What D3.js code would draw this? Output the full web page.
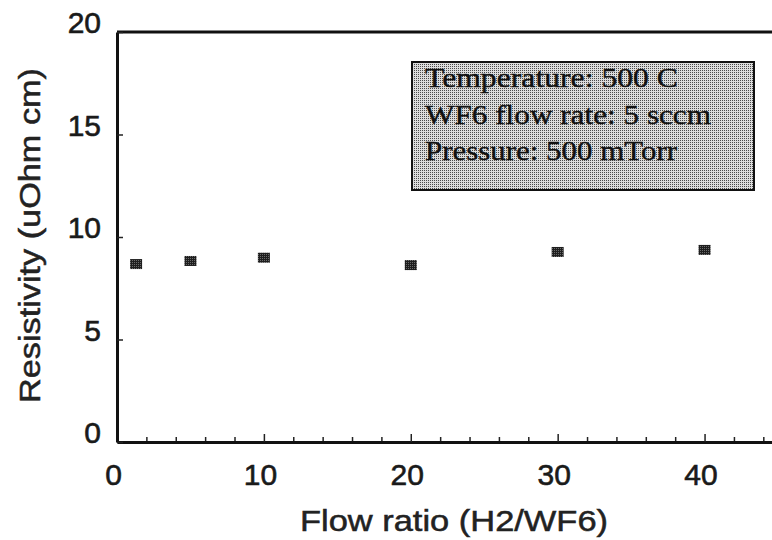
<!DOCTYPE html>
<html><head><meta charset="utf-8">
<script src="https://cdn.jsdelivr.net/npm/d3@7"></script>
<style>
body{margin:0;background:#fff;}
svg{display:block;}
</style></head>
<body>
<svg id="chart" width="772" height="540"></svg>
<script>
const flowRatio = [1.3, 5, 10, 20, 30, 40];
const resistivity = [8.68, 8.83, 8.99, 8.63, 9.27, 9.37];
const xTicks = [0, 10, 20, 30, 40];
const xMinorTicks = [2,4,6,8,12,14,16,18,22,24,26,28,32,34,36,38,42,44];
const yTicks = [0, 5, 10, 15, 20];
const noteLines = ["Temperature: 500 C", "WF6 flow rate: 5 sccm", "Pressure: 500 mTorr"];
const noteWidths = [253, 286, 252];
const xTitle = "Flow ratio (H2/WF6)";
const yTitle = "Resistivity (uOhm cm)";

const svg = d3.select("#chart");
const x = d3.scaleLinear().domain([0, 45]).range([117, 778]);
const y = d3.scaleLinear().domain([0, 20]).range([442, 32]);

const defs = svg.append("defs");
const pat = defs.append("pattern").attr("id","dots").attr("width",2).attr("height",2)
  .attr("patternUnits","userSpaceOnUse");
pat.append("rect").attr("width",2).attr("height",2).attr("fill","#dcdcdc");
pat.append("rect").attr("width",1).attr("height",1).attr("fill","#4a4a4a");
const pat2 = defs.append("pattern").attr("id","mark").attr("width",2).attr("height",2)
  .attr("patternUnits","userSpaceOnUse");
pat2.append("rect").attr("width",2).attr("height",2).attr("fill","#1e1e1e");
pat2.append("rect").attr("width",1).attr("height",1).attr("fill","#6a6a6a");

const sans = "'Liberation Sans', Arial, sans-serif";

// top border
svg.append("line").attr("x1", x(0)).attr("x2", x(45)).attr("y1", y(20)).attr("y2", y(20))
  .attr("stroke","#111").attr("stroke-width",3);

// minor x ticks
svg.append("g").attr("transform",`translate(0,${y(0)})`)
  .call(d3.axisBottom(x).tickValues(xMinorTicks).tickSize(-5).tickFormat(""))
  .call(g=>g.select(".domain").remove())
  .call(g=>g.selectAll("line").attr("stroke","#222").attr("stroke-width",1.5));

// x axis
const gx = svg.append("g").attr("transform",`translate(0,${y(0)})`)
  .call(d3.axisBottom(x).tickValues(xTicks).tickSize(-8).tickSizeOuter(0).tickFormat(d3.format("d")));
gx.select(".domain").attr("stroke","#111").attr("stroke-width",3);
gx.selectAll(".tick line").attr("stroke","#222").attr("stroke-width",1.5);
gx.selectAll(".tick text").attr("y",43).attr("dy",0).attr("dx",-4)
  .style("font-family",sans).style("font-size","30px")
  .attr("fill","#1a1a1a").style("stroke","#1a1a1a").style("stroke-width",0.6);

// y axis
const gy = svg.append("g").attr("transform",`translate(${x(0)},0)`)
  .call(d3.axisLeft(y).tickValues(yTicks).tickSize(-6).tickSizeOuter(0).tickFormat(d3.format("d")));
gy.select(".domain").attr("stroke","#111").attr("stroke-width",3);
gy.selectAll(".tick line").attr("stroke","#222").attr("stroke-width",1.5);
gy.selectAll(".tick text").attr("x",-16).attr("y",-10).attr("dy","0.36em")
  .style("font-family",sans).style("font-size","30px")
  .attr("fill","#1a1a1a").style("stroke","#1a1a1a").style("stroke-width",0.6);

// axis titles
svg.append("text").attr("x", 300).attr("y", 531).text(xTitle)
  .attr("textLength", 308).attr("lengthAdjust","spacingAndGlyphs")
  .style("font-family",sans).style("font-size","29px")
  .attr("fill","#222").style("stroke","#222").style("stroke-width",0.5);
svg.append("text").attr("transform","translate(40,403) rotate(-90)").text(yTitle)
  .attr("textLength", 335).attr("lengthAdjust","spacingAndGlyphs")
  .style("font-family",sans).style("font-size","29px")
  .attr("fill","#222").style("stroke","#222").style("stroke-width",0.5);

// note box
svg.append("rect").attr("x",412).attr("y",62).attr("width",342).attr("height",128)
  .attr("fill","url(#dots)").attr("stroke","#111").attr("stroke-width",2);
const baselines = [87, 124, 160];
noteLines.forEach((t,i)=>{
  svg.append("text").attr("x",425).attr("y",baselines[i]).text(t)
    .attr("textLength", noteWidths[i]).attr("lengthAdjust","spacingAndGlyphs")
    .style("font-family","'Liberation Serif', 'Times New Roman', serif").style("font-size","28px")
    .attr("fill","#111").style("stroke","#111").style("stroke-width",0.4);
});

// data markers
svg.append("g").selectAll("rect").data(flowRatio.map((f,i)=>({f, r: resistivity[i]})))
  .join("rect")
  .attr("x", d=>x(d.f)-6).attr("y", d=>y(d.r)-5)
  .attr("width", 12).attr("height", 10)
  .attr("fill","url(#mark)");
</script>
</body></html>
